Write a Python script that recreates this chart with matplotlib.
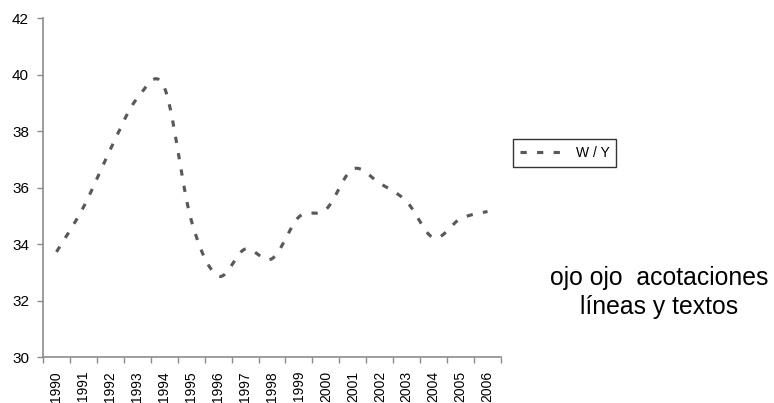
import numpy as np
import matplotlib
matplotlib.use("Agg")
import matplotlib.pyplot as plt
from matplotlib.lines import Line2D

plt.rcParams['font.family'] = ['Liberation Sans', 'DejaVu Sans']

years = ['1990', '1991', '1992', '1993', '1994', '1995', '1996', '1997', '1998',
         '1999', '2000', '2001', '2002', '2003', '2004', '2005', '2006']
wy = [33.72, 35.3, 37.35, 39.16, 39.55, 34.85, 32.87, 33.82, 33.48,
      34.96, 35.22, 36.65, 36.15, 35.5, 34.22, 34.9, 35.15]
series_name = 'W / Y'
note = 'ojo ojo  acotaciones\nlíneas y textos'


def smooth(xs, ys, n=40):
    """Catmull-Rom spline through the points (spreadsheet-style smoothed line)."""
    xs = np.asarray(xs, float)
    ys = np.asarray(ys, float)
    px = np.concatenate([[xs[0]], xs, [xs[-1]]])
    py = np.concatenate([[ys[0]], ys, [ys[-1]]])
    out_x, out_y = [], []
    t = np.linspace(0, 1, n)
    for i in range(1, len(px) - 2):
        p0x, p1x, p2x, p3x = px[i - 1:i + 3]
        p0y, p1y, p2y, p3y = py[i - 1:i + 3]
        # Bezier control points
        c1x, c1y = p1x + (p2x - p0x) / 6, p1y + (p2y - p0y) / 6
        c2x, c2y = p2x - (p3x - p1x) / 6, p2y - (p3y - p1y) / 6
        bx = ((1 - t) ** 3) * p1x + 3 * ((1 - t) ** 2) * t * c1x + 3 * (1 - t) * t ** 2 * c2x + t ** 3 * p2x
        by = ((1 - t) ** 3) * p1y + 3 * ((1 - t) ** 2) * t * c1y + 3 * (1 - t) * t ** 2 * c2y + t ** 3 * p2y
        if i > 1:
            bx, by = bx[1:], by[1:]
        out_x.append(bx)
        out_y.append(by)
    return np.concatenate(out_x), np.concatenate(out_y)


fig = plt.figure(figsize=(7.74, 4.03), dpi=100)
ax = fig.add_axes([43 / 774, 1 - 357 / 403, (501 - 43) / 774, (357 - 18) / 403])

line_color = '#595959'
axis_color = '#8c8c8c'
dash = (0, (2.0, 3.3))

centers = np.arange(len(years)) + 0.5
sx, sy = smooth(centers, wy)
ax.plot(sx, sy, color=line_color, lw=2.25, linestyle=dash, dash_capstyle='butt')

ax.set_xlim(0, len(years))
ax.set_ylim(30, 42)
ax.set_yticks(np.arange(30, 43, 2))

# category boundaries carry the tick marks, centers carry the labels
ax.set_xticks(np.arange(0, len(years) + 1))
ax.set_xticklabels([])
ax.set_xticks(centers, minor=True)
ax.set_xticklabels(years, minor=True, rotation=90, fontsize=10)
ax.tick_params(axis='x', which='minor', length=0, pad=10)
ax.tick_params(axis='x', which='major', length=4, width=1, color=axis_color, direction='out')
ax.tick_params(axis='y', length=4, width=1, color=axis_color, direction='out', labelsize=11, pad=6)

for s in ('top', 'right'):
    ax.spines[s].set_visible(False)
for s in ('left', 'bottom'):
    ax.spines[s].set_color(axis_color)
    ax.spines[s].set_linewidth(1.2)

handle = Line2D([], [], color=line_color, lw=2.25, linestyle=dash, dash_capstyle='butt')
leg = fig.legend([handle], [series_name], loc='upper left',
                 bbox_to_anchor=(513 / 774, 1 - 139 / 403), fontsize=10,
                 frameon=True, fancybox=False, borderaxespad=0,
                 handlelength=3.2, handletextpad=0.8, borderpad=0.5)
leg.get_frame().set_edgecolor('black')
leg.get_frame().set_linewidth(1.0)

fig.text(659 / 774, 1 - 292.5 / 403, note, ha='center', va='center',
         fontsize=17.8, linespacing=1.25, color='black')

fig.savefig('out.png', dpi=100)
